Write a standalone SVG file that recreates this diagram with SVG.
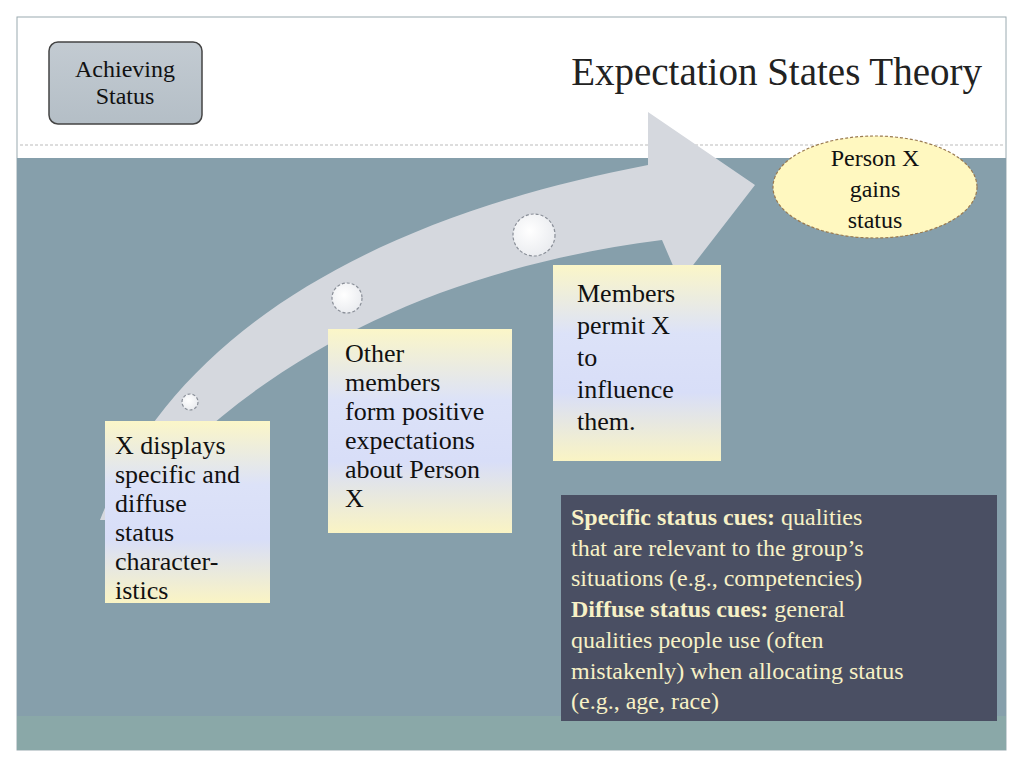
<svg xmlns="http://www.w3.org/2000/svg" width="1024" height="768" viewBox="0 0 1024 768">
<defs>
<linearGradient id="box" x1="0" y1="0" x2="0" y2="1">
<stop offset="0" stop-color="#FBF6C8"/><stop offset="0.35" stop-color="#DCE2F8"/><stop offset="0.65" stop-color="#D8DEF8"/><stop offset="1" stop-color="#FAF4C4"/>
</linearGradient>
<radialGradient id="dot" cx="0.4" cy="0.4" r="0.7"><stop offset="0" stop-color="#FFFFFF"/><stop offset="1" stop-color="#E8EAEE"/></radialGradient>
<linearGradient id="btn" x1="0" y1="0" x2="0" y2="1"><stop offset="0" stop-color="#C3CBD2"/><stop offset="1" stop-color="#B4BEC6"/></linearGradient>
</defs>
<style>
.t{font-family:"Liberation Serif",serif;font-size:26px;fill:#111}
.d{font-family:"Liberation Serif",serif;font-size:24px;fill:#F7F1C6}
.b{font-weight:bold}
.circ{fill:url(#dot);stroke:#8A8F98;stroke-width:1.2;stroke-dasharray:3 2}
.nb{fill:url(#box)}
</style>
<rect width="1024" height="768" fill="#fff"/>
<rect x="17" y="17" width="989" height="733" fill="#fff" stroke="#9AAAB0" stroke-width="1"/>
<rect x="17" y="158" width="989" height="558" fill="#869FAB"/>
<rect x="17" y="716" width="989" height="34" fill="#8AA8A8"/>
<line x1="20" y1="145" x2="1004" y2="145" stroke="#BBB" stroke-dasharray="3 2"/>
<g id="achieving">
<rect x="49" y="42" width="153" height="82" rx="9" fill="url(#btn)" stroke="#444" stroke-width="1.5"/>
<text x="125" y="77" text-anchor="middle" font-family="Liberation Serif,serif" font-size="24" fill="#111">Achieving</text>
<text x="125" y="104" text-anchor="middle" font-family="Liberation Serif,serif" font-size="24" fill="#111">Status</text>
</g>
<text x="982" y="85" text-anchor="end" font-family="Liberation Serif,serif" font-size="39" fill="#222">Expectation States Theory</text>
<g id="arrow">
<path d="M100,520 C170,340 360,220 648,165 L648,112 L755,185 L680,282 L662,240 C430,270 250,360 118,520 Z" fill="#D5D8DE"/>
</g>
<g id="dots">
<circle class="circ" cx="190" cy="402" r="8"/>
<circle class="circ" cx="347" cy="298" r="15"/>
<circle class="circ" cx="534" cy="235" r="21"/>
</g>
<g id="person">
<ellipse cx="875" cy="187" rx="102" ry="51" fill="#FFF8C0" stroke="#9A7A50" stroke-width="1.2" stroke-dasharray="3 2"/>
<text x="875" y="166" text-anchor="middle" class="t" style="font-size:24px">Person X</text>
<text x="875" y="197" text-anchor="middle" class="t" style="font-size:24px">gains</text>
<text x="875" y="228" text-anchor="middle" class="t" style="font-size:24px">status</text>
</g>
<g id="n1">
<rect class="nb" x="105" y="421" width="165" height="182"/>
<text class="t" x="115" y="454">X displays</text>
<text class="t" x="115" y="483">specific and</text>
<text class="t" x="115" y="512">diffuse</text>
<text class="t" x="115" y="541">status</text>
<text class="t" x="115" y="570">character-</text>
<text class="t" x="115" y="599">istics</text>
</g>
<g id="n2">
<rect class="nb" x="328" y="329" width="184" height="204"/>
<text class="t" x="345" y="362">Other</text>
<text class="t" x="345" y="391">members</text>
<text class="t" x="345" y="420">form positive</text>
<text class="t" x="345" y="449">expectations</text>
<text class="t" x="345" y="478">about Person</text>
<text class="t" x="345" y="507">X</text>
</g>
<g id="n3">
<rect class="nb" x="553" y="265" width="168" height="196"/>
<text class="t" x="577" y="302">Members</text>
<text class="t" x="577" y="334">permit X</text>
<text class="t" x="577" y="366">to</text>
<text class="t" x="577" y="398">influence</text>
<text class="t" x="577" y="430">them.</text>
</g>
<g id="cues">
<rect x="561" y="495" width="436" height="226" fill="#4A4F63"/>
<text class="d" x="571" y="525"><tspan class="b">Specific status cues:</tspan>  qualities</text>
<text class="d" x="571" y="556">that are relevant to the group’s</text>
<text class="d" x="571" y="586">situations (e.g., competencies)</text>
<text class="d" x="571" y="617"><tspan class="b">Diffuse status cues:</tspan> general</text>
<text class="d" x="571" y="648">qualities people use (often</text>
<text class="d" x="571" y="679">mistakenly) when allocating status</text>
<text class="d" x="571" y="709">(e.g., age, race)</text>
</g>
</svg>
